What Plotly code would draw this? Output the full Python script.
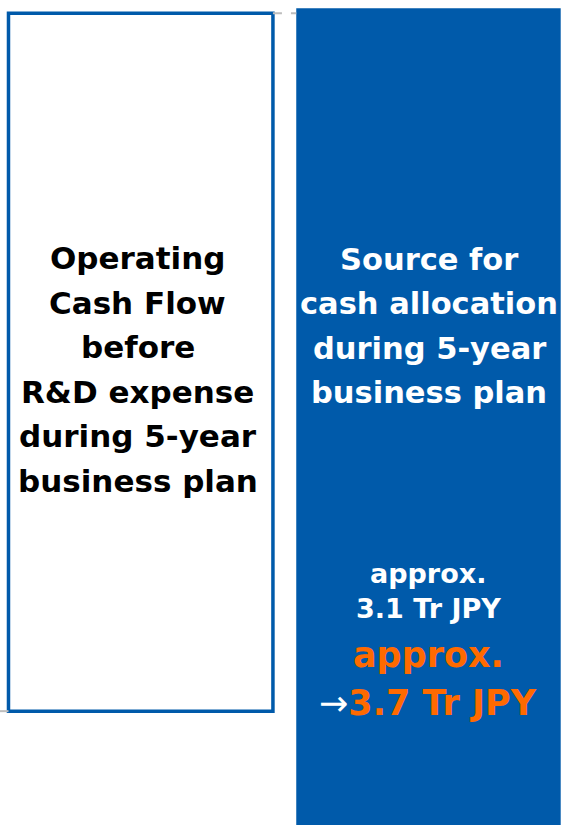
import plotly.graph_objects as go

# two boxes of the cash allocation slide (arbitrary height units, 0-100)
categories = ["Operating Cash Flow before R&D expense", "Source for cash allocation"]
bar_base = [13.8, -1.0]
bar_top = [98.4, 99.0]

left_lines = ["Operating", "Cash Flow", "before", "R&D expense", "during 5-year", "business plan"]
right_lines = ["Source for", "cash allocation", "during 5-year", "business plan"]
prev_lines = ["approx.", "3.1 Tr JPY"]
new_lines = ["approx.", "3.7 Tr JPY"]

BLUE = "#005AAA"
ORANGE = "#FF6A00"
FONT = "DejaVu Sans"
W, H = 562, 825
bar_w = 0.919

fig = go.Figure()
fig.add_trace(go.Bar(
    x=[0, 1], y=[t - b for t, b in zip(bar_top, bar_base)], base=bar_base,
    width=bar_w, hovertext=categories, hoverinfo="skip",
    marker=dict(color=["white", BLUE], line=dict(color=[BLUE, BLUE], width=[3.5, 0])),
))

# dashed connectors
conn = dict(color="#BDBDBD", width=2, dash="dash")
fig.add_shape(type="line", x0=-0.49, x1=-bar_w / 2, y0=bar_base[0], y1=bar_base[0], line=conn)
fig.add_shape(type="line", x0=bar_w / 2, x1=1 - bar_w / 2, y0=bar_top[0], y1=bar_top[0], line=conn)


def add_lines(lines, x, y_first, step, size, color, xshift=0):
    for i, txt in enumerate(lines):
        fig.add_annotation(
            x=x, xref="x", y=1 - (y_first + i * step) / H, yref="paper",
            text=txt, showarrow=False, xshift=xshift, yanchor="middle",
            font=dict(family=FONT, size=size, color=color, weight="bold"),
        )


add_lines(left_lines, 0, 258, 44.6, 31, "black", xshift=-3)
add_lines(right_lines, 1, 259, 44.5, 30.5, "white", xshift=1)
add_lines(prev_lines, 1, 573, 35, 27, "white")
add_lines(new_lines[:1], 1, 655, 48, 35, ORANGE)
fig.add_annotation(
    x=1, xref="x", y=1 - 703 / H, yref="paper", showarrow=False, yanchor="middle",
    text="<span style='color:white;font-weight:normal'>→</span>" + new_lines[1],
    font=dict(family=FONT, size=35, color=ORANGE, weight="bold"),
)

fig.update_layout(
    width=W, height=H, margin=dict(l=0, r=0, t=0, b=0),
    paper_bgcolor="white", plot_bgcolor="white", showlegend=False,
    xaxis=dict(range=[-0.489, 1.464], visible=False),
    yaxis=dict(range=[0, 100], visible=False),
)
fig.write_html("out.html", config={"displayModeBar": False},
               post_script="document.body.style.margin='0';")
